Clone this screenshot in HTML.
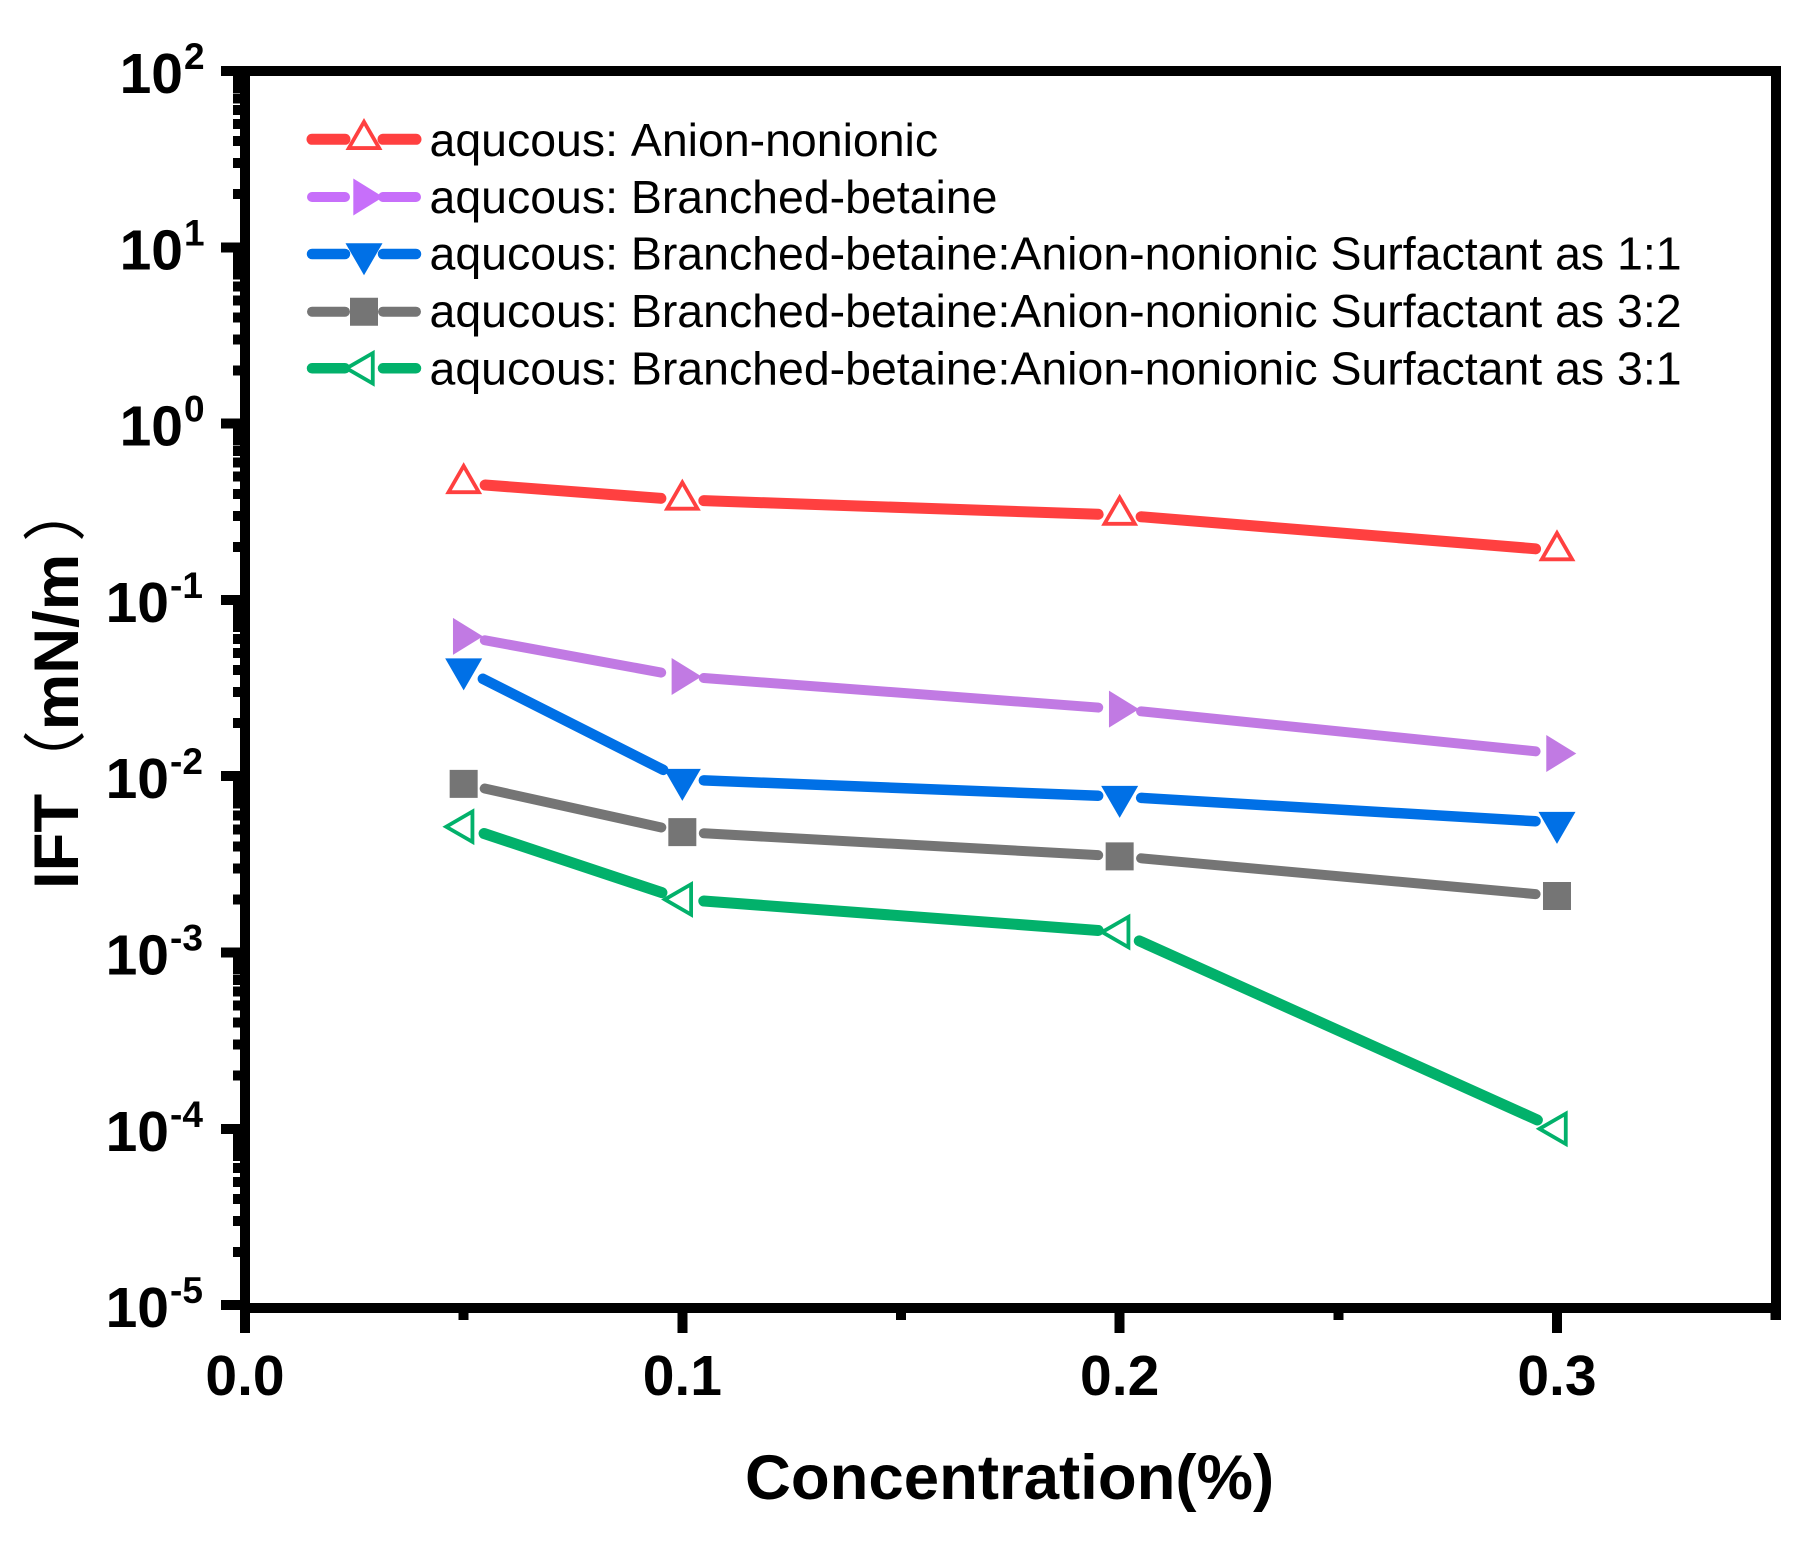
<!DOCTYPE html>
<html lang="en">
<head>
<meta charset="utf-8">
<title>IFT vs Concentration</title>
<style>
html,body{margin:0;padding:0;background:#fff;}
svg{display:block;}
text{font-family:"Liberation Sans","Noto Sans CJK SC",sans-serif;fill:#000;font-kerning:none;}
.tick{font-weight:700;font-size:57px;}
.sup{font-weight:700;font-size:37px;}
.legend-text{font-size:46.45px;}
.title{font-weight:700;font-size:63.5px;}
</style>
</head>
<body>
<svg id="chart" xmlns="http://www.w3.org/2000/svg" width="1811" height="1544" viewBox="0 0 1811 1544">
  <rect x="0" y="0" width="1811" height="1544" fill="#ffffff"/>
  <g id="axes" shape-rendering="crispEdges"></g>
  <g id="ticklabels"></g>
  <g id="series"></g>
  <g id="legend">
    <text class="legend-text" x="429.5" y="156">aqucous: Anion-nonionic</text>
    <text class="legend-text" x="429.5" y="213">aqucous: Branched-betaine</text>
    <text class="legend-text" x="429.5" y="269.5">aqucous: Branched-betaine:Anion-nonionic Surfactant as 1:1</text>
    <text class="legend-text" x="429.5" y="327">aqucous: Branched-betaine:Anion-nonionic Surfactant as 3:2</text>
    <text class="legend-text" x="429.5" y="384.5">aqucous: Branched-betaine:Anion-nonionic Surfactant as 3:1</text>
  </g>
  <text class="title" x="745" y="1499">Concentration(%)</text>
  <text class="title" transform="translate(78,889) rotate(-90)">IFT<tspan font-weight="400">（</tspan>mN/m<tspan font-weight="400" dx="12">）</tspan></text>
</svg>
<script>
const xCategories = [0.05, 0.1, 0.2, 0.3];
const anionNonionic = [0.458, 0.369, 0.303, 0.1905];
const branchedBetaine = [0.0621, 0.0368, 0.024, 0.01345];
const ratio11 = [0.0405, 0.00957, 0.00766, 0.00546];
const ratio32 = [0.00904, 0.00482, 0.00351, 0.00209];
const ratio31 = [0.00517, 0.0020, 0.001306, 0.0001];
const xMajorTicks = [0, 0.1, 0.2, 0.3];
const xMinorTicks = [0.05, 0.15, 0.25, 0.35];
const xTickLabels = ['0.0', '0.1', '0.2', '0.3'];
const yDecades = [2, 1, 0, -1, -2, -3, -4, -5];
const yMinorMultipliers = [2, 3, 4, 5, 6, 7, 8, 9];

const seriesList = [
  {key: 'anion-nonionic', values: anionNonionic, color: '#FF4040', legendColor: '#FF4040', marker: 'up', filled: false, width: 11, legendWidth: 11, legendY: 139.3},
  {key: 'branched-betaine', values: branchedBetaine, color: '#C17AE3', legendColor: '#C76FFA', marker: 'right', filled: true, width: 10, legendWidth: 10, legendY: 197},
  {key: 'ratio-1-1', values: ratio11, color: '#0070E6', legendColor: '#0070E6', marker: 'down', filled: true, width: 10.5, legendWidth: 10.5, legendY: 254},
  {key: 'ratio-3-2', values: ratio32, color: '#757575', legendColor: '#757575', marker: 'square', filled: true, width: 10, legendWidth: 10, legendY: 311.7},
  {key: 'ratio-3-1', values: ratio31, color: '#02B16B', legendColor: '#02B16B', marker: 'left', filled: false, width: 11, legendWidth: 10.5, legendY: 368.3}
];

const NS = 'http://www.w3.org/2000/svg';
const X0 = 245, XPER = 4373.3;
const YTOP = 71, DECADE = 176.3, YMAXEXP = 2;
function xScale(v) { return X0 + v * XPER; }
function yScale(v) { return YTOP + (YMAXEXP - Math.log10(v)) * DECADE; }

function make(tag, attrs, parent) {
  const e = document.createElementNS(NS, tag);
  for (const k in attrs) e.setAttribute(k, attrs[k]);
  parent.appendChild(e);
  return e;
}

const axes = document.getElementById('axes');
const tickLabels = document.getElementById('ticklabels');
const seriesGroup = document.getElementById('series');
const legend = document.getElementById('legend');

function spine(name, x, y, w, h) {
  const r = make('rect', {x: x, y: y, width: w, height: h, fill: '#000'}, axes);
  
  
}
spine('axis-left', 240, 66, 10, 1267);
spine('axis-top', 221, 66, 1560, 10);
spine('axis-right', 1771, 66, 10, 1254);
spine('axis-bottom', 240, 1303, 1541, 10);

yDecades.forEach(function (d) {
  const y = yScale(Math.pow(10, d));
  const t = make('rect', {x: 221, y: y - 5, width: 20, height: 10, fill: '#000'}, axes);
  
  

  const baseX = d >= 0 ? 183 : 169;
  const supX = d >= 0 ? 184 : 170;
  const base = make('text', {class: 'tick', x: baseX, y: y + 22, 'text-anchor': 'end'}, tickLabels);
  base.textContent = '10';
  
  
  const sup = make('text', {class: 'sup', x: supX, y: y - 2}, tickLabels);
  sup.textContent = String(d);
  
  

  if (d > -5) {
    yMinorMultipliers.forEach(function (m) {
      const my = yScale(m * Math.pow(10, d - 1));
      const mt = make('rect', {x: 233, y: my - 5, width: 8, height: 10, fill: '#000'}, axes);
      
      
    });
  }
});

xMajorTicks.forEach(function (v, i) {
  const x = xScale(v);
  const t = make('rect', {x: x - 5, y: 1312, width: 10, height: 21, fill: '#000'}, axes);
  
  
  const l = make('text', {class: 'tick', x: x, y: 1395, 'text-anchor': 'middle'}, tickLabels);
  l.textContent = xTickLabels[i];
  
  
});
xMinorTicks.forEach(function (v) {
  const t = make('rect', {x: xScale(v) - 5, y: 1312, width: 10, height: 8, fill: '#000'}, axes);
  
  
});

function markerShape(type, filled, parent, color, cx, cy) {
  const s = filled ? 1 : 0.82;
  const tip = 21.3 * s, back = 10.7 * s, half = 18.5 * s;
  let pts = null;
  if (type === 'up') pts = [[0, -tip], [half, back], [-half, back]];
  if (type === 'down') pts = [[0, tip], [half, -back], [-half, -back]];
  if (type === 'right') pts = [[tip - 2, 0], [-back, half], [-back, -half]];
  if (type === 'left') pts = [[-tip, 0], [back, half], [back, -half]];
  if (type === 'square') pts = [[-14, -14], [14, -14], [14, 14], [-14, 14]];
  const str = pts.map(function (p) { return (cx + p[0]) + ',' + (cy + p[1]); }).join(' ');
  return make('polygon', {
    points: str,
    fill: filled ? color : '#ffffff',
    stroke: filled ? 'none' : color,
    'stroke-width': filled ? 0 : 3.8,
    'stroke-linejoin': 'miter'
  }, parent);
}

const GAP = 21.5;
seriesList.forEach(function (s) {
  const g = make('g', {}, seriesGroup);
  
  
  const pts = s.values.map(function (v, i) { return [xScale(xCategories[i]), yScale(v)]; });
  for (let i = 0; i < pts.length - 1; i++) {
    const a = pts[i], b = pts[i + 1];
    const dx = b[0] - a[0], dy = b[1] - a[1];
    const len = Math.hypot(dx, dy);
    const ux = dx / len, uy = dy / len;
    const seg = make('line', {
      x1: a[0] + ux * GAP, y1: a[1] + uy * GAP,
      x2: b[0] - ux * GAP, y2: b[1] - uy * GAP,
      stroke: s.color, 'stroke-width': s.width, 'stroke-linecap': 'round'
    }, g);
    
    
  }
  pts.forEach(function (p) {
    const m = markerShape(s.marker, s.filled, g, s.color, p[0], p[1]);
    
    
  });

  const cx = 364;
  const keyLeft = make('line', {x1: 312, y1: s.legendY, x2: 345, y2: s.legendY, stroke: s.legendColor, 'stroke-width': s.legendWidth, 'stroke-linecap': 'round'}, legend);
  
  
  const keyRight = make('line', {x1: 383, y1: s.legendY, x2: 416, y2: s.legendY, stroke: s.legendColor, 'stroke-width': s.legendWidth, 'stroke-linecap': 'round'}, legend);
  
  
  const key = markerShape(s.marker, s.filled, legend, s.legendColor, cx, s.legendY);
  
  
});
</script>
</body>
</html>
